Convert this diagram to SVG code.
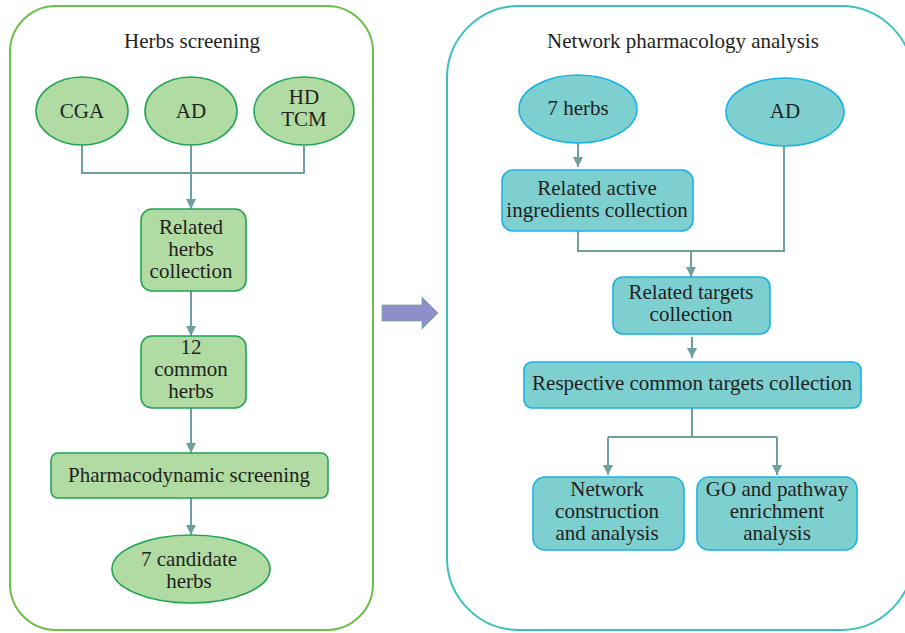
<svg xmlns="http://www.w3.org/2000/svg" width="905" height="633" viewBox="0 0 905 633">
<defs>
<marker id="ah" viewBox="0 0 10 10" refX="10" refY="5" markerWidth="10" markerHeight="10" markerUnits="userSpaceOnUse" orient="auto">
<path d="M0,0 L10,5 L0,10 z" fill="#6f9e9e"/>
</marker>
<style>
text{font-family:'Liberation Serif','Times New Roman',serif;font-size:21px;fill:#231f20;text-anchor:middle}
.g{fill:#b0dba3;stroke:#22a356;stroke-width:1.6}
.b{fill:#7ecfd0;stroke:#19b2e6;stroke-width:1.6}
.c{fill:none;stroke:#6f9e9e;stroke-width:2}
.a{marker-end:url(#ah)}
</style>
</defs>
<rect id="panel-left" x="10" y="6" width="363" height="624" rx="46" fill="#fff" stroke="#6cc04a" stroke-width="2"/>
<rect id="panel-right" x="447" y="6" width="466" height="624" rx="72" fill="#fff" stroke="#3cbfbf" stroke-width="2"/>
<text x="192" y="48">Herbs screening</text>
<text x="683" y="48">Network pharmacology analysis</text>
<g id="connectors">
<path class="c" d="M82,145 V173 H304 V146"/>
<path class="c a" d="M191,145 V209"/>
<path class="c a" d="M191,291 V336"/>
<path class="c a" d="M191,408 V453"/>
<path class="c a" d="M191,498 V535"/>
<path class="c a" d="M578,143 V167"/>
<path class="c" d="M578,231 V251 H784 V146"/>
<path class="c a" d="M691,251 V277"/>
<path class="c a" d="M692,337 V358"/>
<path class="c" d="M692,408 V437 H608 M692,437 H777"/>
<path class="c a" d="M608,437 V475"/>
<path class="c a" d="M777,437 V475"/>
</g>
<g id="big-arrow"><path d="M382,305 H422 V297 L438,313 L422,329 V321 H382 Z" fill="#8e8fc8" stroke="#7aa3a3" stroke-width="0.8"/></g>
<g id="cga"><ellipse class="g" cx="82" cy="111" rx="46" ry="34"/><text x="82" y="118">CGA</text></g>
<g id="ad1"><ellipse class="g" cx="191" cy="111" rx="46" ry="34"/><text x="191" y="118">AD</text></g>
<g id="hdtcm"><ellipse class="g" cx="304" cy="111" rx="50" ry="34"/><text x="304" y="104">HD</text><text x="304" y="126">TCM</text></g>
<g id="related-herbs"><rect class="g" x="141" y="209" width="105" height="82" rx="11"/><text x="191" y="234">Related</text><text x="191" y="256">herbs</text><text x="191" y="278">collection</text></g>
<g id="common-herbs"><rect class="g" x="141" y="336" width="105" height="72" rx="11"/><text x="191" y="354">12</text><text x="191" y="376">common</text><text x="191" y="398">herbs</text></g>
<g id="pharmaco"><rect class="g" x="51" y="453" width="277" height="45" rx="7"/><text x="189" y="482">Pharmacodynamic screening</text></g>
<g id="candidate"><ellipse class="g" cx="191" cy="569" rx="79" ry="34"/><text x="189" y="566">7 candidate</text><text x="189" y="588">herbs</text></g>
<g id="herbs7"><ellipse class="b" cx="578" cy="109" rx="59" ry="34"/><text x="578" y="115">7 herbs</text></g>
<g id="ad2"><ellipse class="b" cx="785" cy="112" rx="59" ry="34"/><text x="785" y="118">AD</text></g>
<g id="active"><rect class="b" x="502" y="170" width="191" height="61" rx="11"/><text x="597" y="195">Related active</text><text x="597" y="217">ingredients collection</text></g>
<g id="targets"><rect class="b" x="613" y="277" width="157" height="57" rx="10"/><text x="691" y="299">Related targets</text><text x="691" y="321">collection</text></g>
<g id="respective"><rect class="b" x="524" y="362" width="337" height="46" rx="8"/><text x="692" y="390">Respective common targets collection</text></g>
<g id="network"><rect class="b" x="533" y="477" width="151" height="73" rx="12"/><text x="607" y="496">Network</text><text x="607" y="518">construction</text><text x="607" y="540">and analysis</text></g>
<g id="go"><rect class="b" x="697" y="477" width="160" height="73" rx="12"/><text x="777" y="496">GO and pathway</text><text x="777" y="518">enrichment</text><text x="777" y="540">analysis</text></g>
</svg>
